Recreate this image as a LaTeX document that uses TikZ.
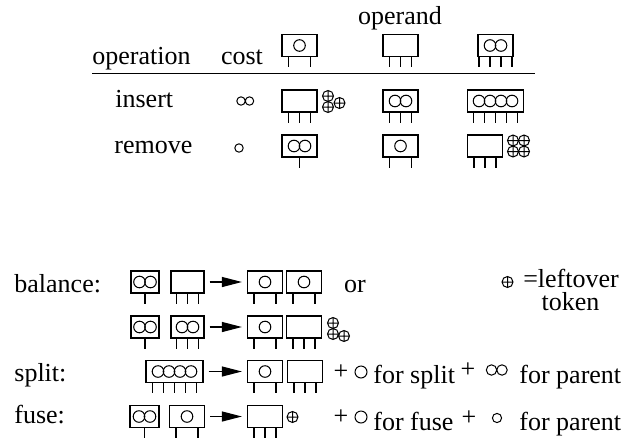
\documentclass[tikz,border=0pt]{standalone}
\usepackage{fontspec}
\setmainfont{Liberation Serif}
\usepackage{tikz}
\usetikzlibrary{arrows.meta, calc}

\tikzset{
    tbox/.style={draw, line width=0.6pt, minimum height=11pt, inner sep=0pt},
    leg/.style={line width=0.6pt},
    key/.style={line width=0.5pt},
    arr/.style={-{Triangle[length=10pt, width=5pt]}, line width=0.6pt, shorten <=2.5pt, shorten >=2.5pt},
    lbl/.style={font=\fontsize{13}{11.5}\selectfont, inner sep=0pt},
    tok/.pic={\draw[line width=0.5pt] (0,0) circle (2.75pt) (-2.75pt,0) -- (2.75pt,0) (0,-2.75pt) -- (0,2.75pt);}
}

% tree node: [box width] name, x, y, keys, children
\newcommand{\btree}[6][17.5pt]{
    \node[tbox, minimum width=#1] (#2) at (#3,#4) {};
    \ifnum#5>0
        \foreach \ki in {1,...,#5}
            \draw[key] ($(#2.center)+({(\ki-(#5+1)/2)*11},0)$) circle (2.9pt);
    \fi
    \ifnum#6=2 \def\legsep{22}\else\def\legsep{11}\fi
    \foreach \ci in {1,...,#6}
        \draw[leg] ($(#2.south)+({(\ci-(#6+1)/2)*\legsep},0)$) -- ++(0,10);
}

\begin{document}
\begin{tikzpicture}[x=0.5pt, y=-0.5pt]
    \useasboundingbox (0,0) rectangle (624,439);

    % Table header
    \node[lbl, anchor=base] (operand) at (400,24) {operand};
    \node[lbl, anchor=base west] (operation) at (92,64) {operation};
    \node[lbl, anchor=base] (cost) at (242,64) {cost};
    \btree{h1}{299.5}{45.5}{1}{2}
    \btree{h2}{400.5}{45.5}{0}{3}
    \btree{h3}{495.5}{45.5}{2}{4}
    \draw[line width=0.6pt] (92,73.5) -- (535,73.5);

    % Insert
    \node[lbl, anchor=base west] (insert) at (115,107) {insert};
    \draw[key] (241,101) circle (2.1pt) (249.5,101) circle (2.1pt);
    \btree{i1}{299.5}{101}{0}{3}
    \pic at (328,96) {tok}; \pic at (328,107) {tok}; \pic at (339.5,103) {tok};
    \btree{i2}{400.5}{101}{2}{3}
    \btree[28pt]{i3}{495.5}{101}{4}{5}

    % Remove
    \node[lbl, anchor=base west] (remove) at (114,153) {remove};
    \draw[key] (239,148) circle (2.1pt);
    \btree{r1}{299.5}{146}{2}{1}
    \btree{r2}{400.5}{146}{1}{2}
    \btree{r3}{485}{146}{0}{3}
    \pic at (513,140.5) {tok}; \pic at (524,140.5) {tok};
    \pic at (513,151.5) {tok}; \pic at (524,151.5) {tok};

    % Balance
    \node[lbl, anchor=base west] (balance) at (14,292) {balance:};
    \btree[14pt]{ba}{145}{282}{2}{1}
    \btree[16.5pt]{bb}{187.5}{282}{0}{3}
    \btree{bc}{265}{282}{1}{2}
    \btree{bd}{304}{282}{1}{2}
    \draw[arr] (bb) -- (bc);
    \node[lbl, anchor=base] (or) at (355,292) {or};
    \pic at (507.5,282) {tok};
    \node[lbl, anchor=base] (leftover) at (571,287) {=leftover};
    \node[lbl, anchor=base] (token) at (570.5,310) {token};

    \btree[14pt]{be}{145}{327}{2}{1}
    \btree[16.5pt]{bf}{187.5}{327}{2}{3}
    \btree{bg}{265}{327}{1}{2}
    \btree{bh}{304}{327}{0}{3}
    \draw[arr] (bf) -- (bg);
    \pic at (333,323) {tok}; \pic at (333,334) {tok}; \pic at (344,336) {tok};

    % Split
    \node[lbl, anchor=base west] (split) at (14,381) {split:};
    \btree[28.5pt]{sa}{174.5}{371.5}{4}{5}
    \btree{sb}{265}{371.5}{1}{2}
    \btree{sc}{305}{371.5}{0}{3}
    \draw[arr] (sa) -- (sb);
    \node[lbl] (splus) at (341,372) {+};
    \draw[key] (361,372) circle (3pt);
    \node[lbl, anchor=base west] (forsplit) at (373,383) {for split};
    \node[lbl] (splus2) at (468,370) {+};
    \draw[key] (491.5,370) circle (2.6pt) (502,370) circle (2.6pt);
    \node[lbl, anchor=base west] (sparent) at (519,383) {for parent};

    % Fuse
    \node[lbl, anchor=base west] (fuse) at (14,423) {fuse:};
    \btree[14.5pt]{fa}{144.5}{416.5}{2}{1}
    \btree{fb}{187}{416.5}{1}{2}
    \btree{fc}{265}{416.5}{0}{3}
    \draw[arr] (fb) -- (fc);
    \pic at (292.5,417) {tok};
    \node[lbl] (fplus) at (341,417) {+};
    \draw[key] (361,417) circle (3pt);
    \node[lbl, anchor=base west] (forfuse) at (373,430) {for fuse};
    \node[lbl] (fplus2) at (469,418) {+};
    \draw[key] (497,418) circle (2.3pt);
    \node[lbl, anchor=base west] (fparent) at (519,430) {for parent};
\end{tikzpicture}
\end{document}
